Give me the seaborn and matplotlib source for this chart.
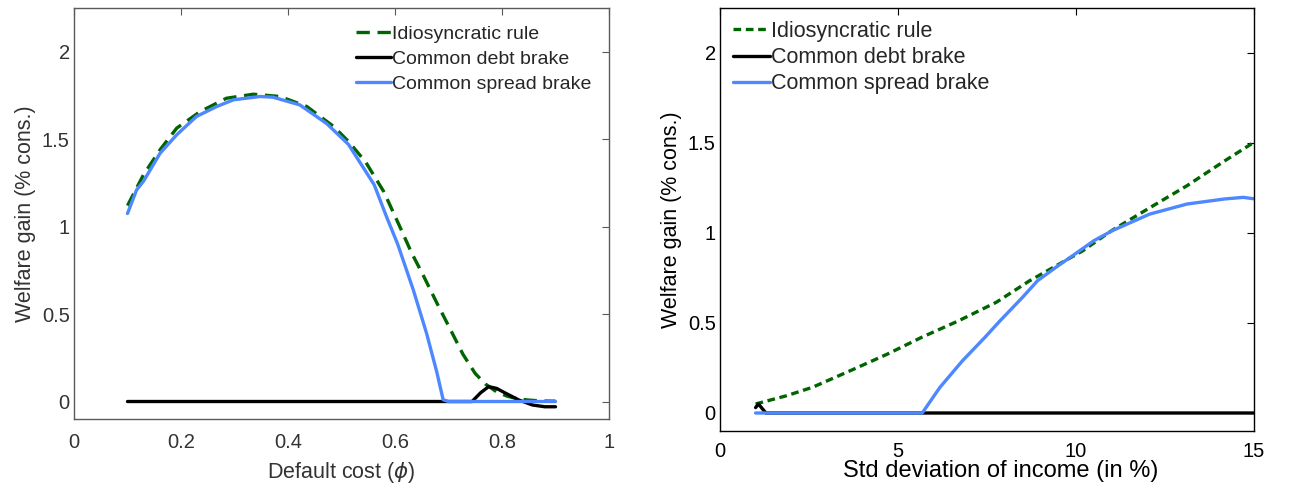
import numpy as np
import pandas as pd
import matplotlib
matplotlib.use("Agg")
import matplotlib.pyplot as plt
import seaborn as sns

# Painel esquerdo: custo de default (phi)
phi_idio = [0.10, 0.13, 0.161, 0.192, 0.236, 0.285, 0.335, 0.385, 0.435, 0.485, 0.513, 0.545,
            0.579, 0.609, 0.631, 0.653, 0.678, 0.703, 0.727, 0.75, 0.769, 0.79, 0.81, 0.83,
            0.85, 0.875, 0.90]
w_idio_phi = [1.12, 1.297, 1.44, 1.563, 1.658, 1.734, 1.757, 1.744, 1.687, 1.573, 1.487, 1.37,
              1.20, 1.0, 0.85, 0.72, 0.565, 0.415, 0.27, 0.16, 0.10, 0.055, 0.03, 0.015,
              0.008, 0.003, 0.002]
phi_debt = [0.10, 0.744, 0.76, 0.775, 0.79, 0.807, 0.832, 0.857, 0.88, 0.90]
w_debt_phi = [0.0, 0.0, 0.05, 0.085, 0.075, 0.047, 0.008, -0.02, -0.03, -0.03]
phi_spread = [0.10, 0.117, 0.13, 0.161, 0.192, 0.229, 0.267, 0.298, 0.348, 0.372, 0.422, 0.472,
              0.513, 0.561, 0.585, 0.605, 0.634, 0.659, 0.678, 0.69, 0.70, 0.90]
w_spread_phi = [1.075, 1.21, 1.26, 1.42, 1.525, 1.63, 1.687, 1.725, 1.744, 1.74, 1.696, 1.59,
                1.47, 1.24, 1.05, 0.90, 0.64, 0.39, 0.17, 0.01, 0.0, 0.0]

# Painel direito: desvio padrão da renda (%)
sd_idio = [1.0, 1.87, 2.6, 3.66, 4.71, 5.66, 6.71, 7.76, 8.7, 9.55, 10.18, 11.0, 12.07,
           13.12, 14.17, 15.0]
w_idio_sd = [0.05, 0.096, 0.143, 0.235, 0.328, 0.42, 0.513, 0.615, 0.735, 0.83, 0.90, 1.013,
             1.14, 1.263, 1.40, 1.504]
sd_debt = [1.0, 1.08, 1.29, 15.0]
w_debt_sd = [0.03, 0.05, 0.0, 0.0]
sd_spread = [1.0, 5.68, 6.18, 6.81, 7.44, 7.87, 8.5, 8.92, 9.44, 9.97, 10.5, 11.02, 12.07,
             13.12, 14.17, 14.7, 15.0]
w_spread_sd = [0.0, 0.0, 0.143, 0.29, 0.42, 0.513, 0.643, 0.735, 0.81, 0.883, 0.957, 1.013,
               1.105, 1.161, 1.189, 1.198, 1.19]

labels = ["Idiosyncratic rule", "Common debt brake", "Common spread brake"]
verde = "#006400"
azul = "#4d88ff"

sns.set_style("white")
plt.rcParams["font.family"] = ["Liberation Sans", "DejaVu Sans"]
plt.rcParams["mathtext.fontset"] = "dejavusans"

fig = plt.figure(figsize=(12.89, 4.87), dpi=100)
ax1 = fig.add_axes([74 / 1289, 68 / 487, 535 / 1289, 411 / 487])
ax2 = fig.add_axes([720 / 1289, 56 / 487, 534 / 1289, 423 / 487])

lw = 2.4
sns.lineplot(x=phi_idio, y=w_idio_phi, ax=ax1, color=verde, lw=lw, label=labels[0],
             linestyle=(0, (4, 2.3)))
sns.lineplot(x=phi_debt, y=w_debt_phi, ax=ax1, color="black", lw=lw, label=labels[1])
sns.lineplot(x=phi_spread, y=w_spread_phi, ax=ax1, color=azul, lw=lw, label=labels[2])

sns.lineplot(x=sd_idio, y=w_idio_sd, ax=ax2, color=verde, lw=lw, label=labels[0],
             linestyle=(0, (2.3, 1.4)))
sns.lineplot(x=sd_debt, y=w_debt_sd, ax=ax2, color="black", lw=lw, label=labels[1])
sns.lineplot(x=sd_spread, y=w_spread_sd, ax=ax2, color=azul, lw=lw, label=labels[2])

ax1.set_xlim(0, 1)
ax1.set_xticks([0, 0.2, 0.4, 0.6, 0.8, 1])
ax1.set_xticklabels(["0", "0.2", "0.4", "0.6", "0.8", "1"])
ax1.set_xlabel(r"Default cost ($\phi$)", fontsize=15.5, color="#333333", labelpad=6)

ax2.set_xlim(0, 15)
ax2.set_xticks([0, 5, 10, 15])
ax2.set_xticklabels(["0", "5", "10", "15"])
ax2.set_xlabel("Std deviation of income (in %)", fontsize=17, color="black", labelpad=-1)
ax2.xaxis.label.set_x(0.526)

for ax, cor, txt in [(ax1, "#5a5a5a", "#333333"), (ax2, "black", "black")]:
    ax.set_ylim(-0.1, 2.25)
    ax.set_yticks([0, 0.5, 1, 1.5, 2])
    ax.set_yticklabels(["0", "0.5", "1", "1.5", "2"])
    ax.set_ylabel("Welfare gain (% cons.)", fontsize=15.5, color=txt, labelpad=4)
    ax.tick_params(direction="in", top=True, right=True, length=5, width=0.8,
                   labelsize=14.5, colors=cor, labelcolor=txt)
    ax.tick_params(axis="x", pad=10 if ax is ax1 else 8)
    ax.tick_params(axis="y", pad=3)
    for s in ax.spines.values():
        s.set_color(cor)
        s.set_linewidth(1.0)

ax1.legend(loc="upper right", frameon=False, fontsize=14, handlelength=1.8,
           handletextpad=0.05, labelspacing=0.38, borderaxespad=0.5)
ax2.legend(loc="upper left", frameon=False, fontsize=15.5, handlelength=1.7,
           handletextpad=0.05, labelspacing=0.24, borderaxespad=0.2)

fig.savefig("out.png", dpi=100)
